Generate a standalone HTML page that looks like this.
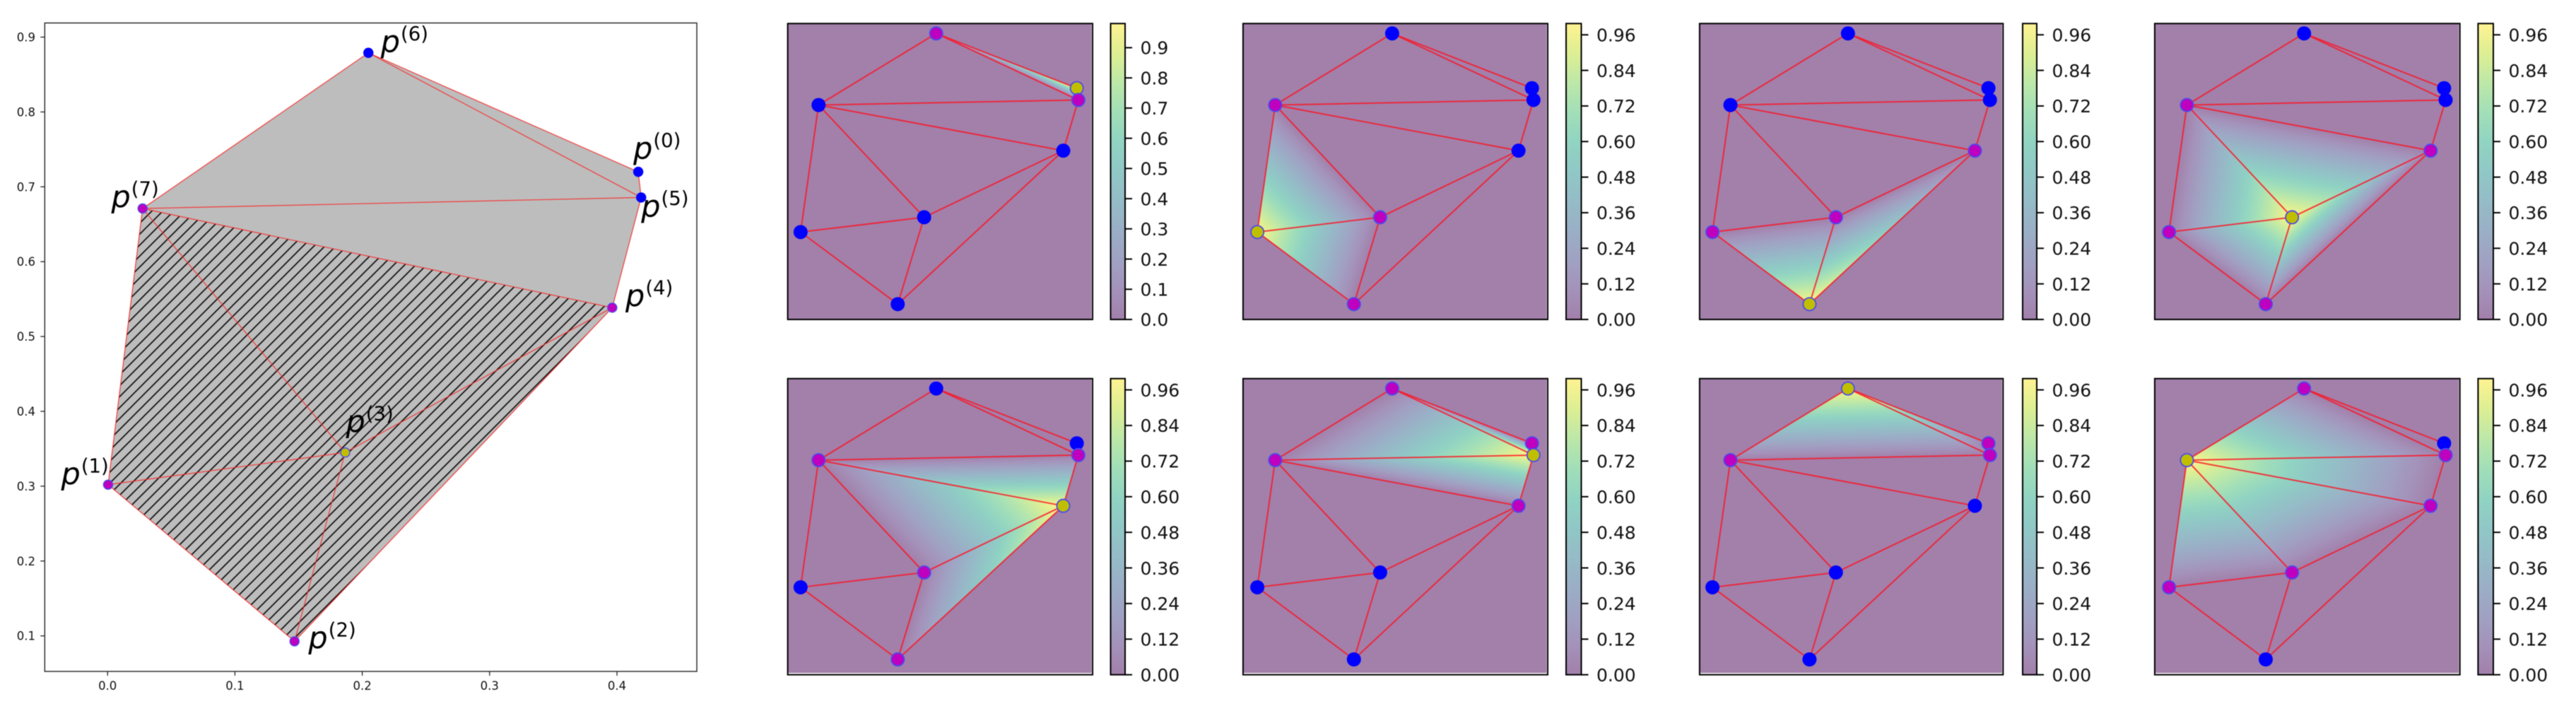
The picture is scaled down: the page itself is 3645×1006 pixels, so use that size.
<!DOCTYPE html>
<html lang="en">
<head>
<meta charset="utf-8">
<title>Nodal basis functions on a triangulation</title>
<style>
  html, body { margin: 0; padding: 0; background: #ffffff; }
  #figure { display: block; filter: blur(0.6px); }
  text { font-family: "DejaVu Sans", "Liberation Sans", sans-serif; fill: #111; }
  .node-label { font-size: 43px; font-style: italic; fill: #000; }
  .node-label tspan { font-size: 27.5px; font-style: normal; }
</style>
</head>
<body>
<svg id="figure" xmlns="http://www.w3.org/2000/svg" width="3645" height="1006" viewBox="0 0 3645 1006">
  <defs id="defs">
    <pattern id="hatch" x="2" y="0" width="15.5" height="15.5" patternUnits="userSpaceOnUse">
      <path d="M-2,2 L2,-2 M-1,16.5 L16.5,-1 M13.5,17.5 L17.5,13.5" stroke="#111" stroke-width="1.7" fill="none"/>
    </pattern>
  </defs>
  <rect x="0" y="0" width="3645" height="1006" fill="#ffffff"/>
  <g id="main-plot"></g>
  <g id="main-labels">
    <text class="node-label" data-node="0" data-dx="-7" data-dy="-18.6">p<tspan dx="1" dy="-16.5">(0)</tspan></text>
    <text class="node-label" data-node="1" data-dx="-66.4" data-dy="-1">p<tspan dx="1" dy="-16.5">(1)</tspan></text>
    <text class="node-label" data-node="2" data-dx="19.7" data-dy="9.6">p<tspan dx="1" dy="-16.5">(2)</tspan></text>
    <text class="node-label" data-node="3" data-dx="1" data-dy="-29">p<tspan dx="1" dy="-16.5">(3)</tspan></text>
    <text class="node-label" data-node="4" data-dx="18.7" data-dy="-2.4">p<tspan dx="1" dy="-16.5">(4)</tspan></text>
    <text class="node-label" data-node="5" data-dx="0" data-dy="27">p<tspan dx="1" dy="-16.5">(5)</tspan></text>
    <text class="node-label" data-node="6" data-dx="17.5" data-dy="-1.1">p<tspan dx="1" dy="-16.5">(6)</tspan></text>
    <text class="node-label" data-node="7" data-dx="-44.3" data-dy="-2">p<tspan dx="1" dy="-16.5">(7)</tspan></text>
  </g>
  <g id="small-panels"></g>
</svg>
<script>
// ---- data ----
const nodeX = [0.4167, 0.0004, 0.1468, 0.1866, 0.3963, 0.419, 0.2048, 0.0275];
const nodeY = [0.720, 0.302, 0.0927, 0.345, 0.5385, 0.6857, 0.879, 0.671];
const triangles = [[6, 0, 5], [6, 5, 7], [7, 5, 4], [7, 4, 3], [7, 3, 1], [1, 3, 2], [3, 4, 2]];
const hatchedTriangles = [3, 4, 5, 6];
const mainActiveNode = 3;
const panelActiveNodes = [0, 1, 2, 3, 4, 5, 6, 7];
const mainXTicks = ['0.0', '0.1', '0.2', '0.3', '0.4'];
const mainYTicks = ['0.1', '0.2', '0.3', '0.4', '0.5', '0.6', '0.7', '0.8', '0.9'];
const firstColorbarTicks = ['0.0', '0.1', '0.2', '0.3', '0.4', '0.5', '0.6', '0.7', '0.8', '0.9'];
const colorbarTicks = ['0.00', '0.12', '0.24', '0.36', '0.48', '0.60', '0.72', '0.84', '0.96'];
const firstColorbarMax = 0.98;
const colorbarMax = 0.998;
const viridisStops = ['#440154', '#482475', '#414487', '#355f8d', '#2a788e', '#21918c', '#22a884', '#44bf70', '#7ad151', '#bddf26', '#fde725'];

// ---- layout ----
const SVGNS = 'http://www.w3.org/2000/svg';
const mainRect = { left: 63.3, right: 986, top: 32.5, bottom: 950 };
const mainX = function (v) { return 152.2 + 1802 * v; };
const mainY = function (v) { return 899.7 - (v - 0.1) * 1059; };
const rowBoxes = [{ top: 33.3, bottom: 452 }, { top: 535.7, bottom: 954.7 }];
const columnBoxes = [
  { left: 1114.6, right: 1546, xmin: -0.0190, xmax: 0.4405, barLeft: 1571.5, barRight: 1592 },
  { left: 1758.9, right: 2190, xmin: -0.0212, xmax: 0.4406, barLeft: 2216, barRight: 2237.5 },
  { left: 2404.9, right: 2834.3, xmin: -0.0190, xmax: 0.4388, barLeft: 2862, barRight: 2882 },
  { left: 3048.9, right: 3480.7, xmin: -0.0212, xmax: 0.4406, barLeft: 3506.4, barRight: 3528 }
];
const panelYMin = 0.0482;
const panelYMax = 0.9077;

function make(tag, attrs, parent) {
  const node = document.createElementNS(SVGNS, tag);
  Object.keys(attrs).forEach(function (k) { node.setAttribute(k, attrs[k]); });
  parent.appendChild(node);
  return node;
}

function hexToRgb(h) {
  return [parseInt(h.slice(1, 3), 16), parseInt(h.slice(3, 5), 16), parseInt(h.slice(5, 7), 16)];
}
// viridis stop drawn at alpha 0.5 on white
function blendedStop(i) {
  const c = hexToRgb(viridisStops[i]);
  return 'rgb(' + c.map(function (x) { return Math.round((x + 255) / 2); }).join(',') + ')';
}

function uniqueEdges() {
  const seen = {};
  const out = [];
  triangles.forEach(function (t) {
    [[t[0], t[1]], [t[1], t[2]], [t[2], t[0]]].forEach(function (e) {
      const key = Math.min(e[0], e[1]) + '-' + Math.max(e[0], e[1]);
      if (!seen[key]) { seen[key] = true; out.push(e); }
    });
  });
  return out;
}

function neighboursOf(active) {
  const set = {};
  triangles.forEach(function (t) {
    if (t.indexOf(active) >= 0) { t.forEach(function (n) { if (n !== active) { set[n] = true; } }); }
  });
  return set;
}

function polyPoints(tri, fx, fy) {
  return tri.map(function (n) { return fx(nodeX[n]).toFixed(2) + ',' + fy(nodeY[n]).toFixed(2); }).join(' ');
}

function drawEdges(parent, fx, fy, stroke, width, opacity) {
  uniqueEdges().forEach(function (e) {
    const line = make('line', {
      x1: fx(nodeX[e[0]]), y1: fy(nodeY[e[0]]), x2: fx(nodeX[e[1]]), y2: fy(nodeY[e[1]]),
      stroke: stroke, 'stroke-width': width, 'stroke-opacity': opacity
    }, parent);
    
    
  });
}

function drawNodes(parent, fx, fy, active, outerR, strokeW) {
  const near = neighboursOf(active);
  nodeX.forEach(function (vx, i) {
    const cx = fx(vx);
    const cy = fy(nodeY[i]);
    const plain = i !== active && !near[i];
    const dot = make('circle', {
      cx: cx, cy: cy, r: plain ? outerR : outerR - strokeW / 2,
      fill: plain ? '#0000ff' : (i === active ? '#bfbf00' : '#bf00bf'),
      stroke: plain ? 'none' : '#4a4aee', 'stroke-width': plain ? 0 : strokeW
    }, parent);
    
    
  });
}

// ---- main mesh plot ----
function drawMain() {
  const g = document.getElementById('main-plot');
  const fills = make('g', {}, g);
  
  
  triangles.forEach(function (t, i) {
    const pts = polyPoints(t, mainX, mainY);
    const tri = make('polygon', { points: pts, fill: '#bdbdbd', stroke: '#bdbdbd', 'stroke-width': 0.6 }, fills);
    
    
    if (hatchedTriangles.indexOf(i) >= 0) {
      const hatched = make('polygon', { points: pts, fill: 'url(#hatch)' }, fills);
      
      
    }
  });
  drawEdges(g, mainX, mainY, '#ff2020', 1.2, 0.85);
  drawNodes(g, mainX, mainY, mainActiveNode, 7.2, 1.4);

  const frame = make('rect', {
    x: mainRect.left, y: mainRect.top, width: mainRect.right - mainRect.left, height: mainRect.bottom - mainRect.top,
    fill: 'none', stroke: '#222', 'stroke-width': 1.4
  }, g);
  
  

  mainXTicks.forEach(function (label) {
    const px = mainX(parseFloat(label));
    const tick = make('line', { x1: px, x2: px, y1: mainRect.bottom, y2: mainRect.bottom + 6, stroke: '#222', 'stroke-width': 1.3 }, g);
    
    
    const txt = make('text', { x: px, y: 976, 'text-anchor': 'middle', 'font-size': 16.5 }, g);
    
    
    txt.textContent = label;
  });
  mainYTicks.forEach(function (label) {
    const py = mainY(parseFloat(label));
    const tick = make('line', { x1: mainRect.left - 6, x2: mainRect.left, y1: py, y2: py, stroke: '#222', 'stroke-width': 1.3 }, g);
    
    
    const txt = make('text', { x: 50, y: py + 6, 'text-anchor': 'end', 'font-size': 16.5 }, g);
    
    
    txt.textContent = label;
  });

  document.querySelectorAll('.node-label').forEach(function (t) {
    const n = parseInt(t.getAttribute('data-node'), 10);
    t.setAttribute('x', mainX(nodeX[n]) + parseFloat(t.getAttribute('data-dx')));
    t.setAttribute('y', mainY(nodeY[n]) + parseFloat(t.getAttribute('data-dy')));
  });
}

// ---- small basis-function panels ----
function drawPanel(index) {
  const col = columnBoxes[index % 4];
  const rowIndex = Math.floor(index / 4);
  const row = rowBoxes[rowIndex];
  const active = panelActiveNodes[index];
  const fx = function (v) { return col.left + (v - col.xmin) / (col.xmax - col.xmin) * (col.right - col.left); };
  const fy = function (v) { return row.top + (panelYMax - v) / (panelYMax - panelYMin) * (row.bottom - row.top); };
  const defs = document.getElementById('defs');
  const g = make('g', {}, document.getElementById('small-panels'));
  
  

  const bg = make('rect', {
    x: col.left, y: row.top,
    width: col.right - col.left - 1.5,
    height: row.bottom - row.top - (rowIndex === 1 ? 2.5 : 0.5),
    fill: blendedStop(0)
  }, g);
  
  

  triangles.forEach(function (t, ti) {
    const at = t.indexOf(active);
    if (at < 0) { return; }
    const b = t[(at + 1) % 3];
    const c = t[(at + 2) % 3];
    const ax = fx(nodeX[active]);
    const ay = fy(nodeY[active]);
    const bx = fx(nodeX[b]);
    const by = fy(nodeY[b]);
    const ex = fx(nodeX[c]) - bx;
    const ey = fy(nodeY[c]) - by;
    const s = ((ax - bx) * ex + (ay - by) * ey) / (ex * ex + ey * ey);
    const id = 'grad-' + index + '-' + ti;
    // gradient runs from the opposite edge (value 0) up to the active node (value 1)
    const grad = make('linearGradient', {
      id: id, gradientUnits: 'userSpaceOnUse',
      x1: bx + s * ex, y1: by + s * ey, x2: ax, y2: ay
    }, defs);
    viridisStops.forEach(function (_, k) {
      make('stop', {
        offset: k / (viridisStops.length - 1),
        'stop-color': blendedStop(k)
      }, grad);
    });
    const tri = make('polygon', { points: polyPoints(t, fx, fy), fill: 'url(#' + id + ')' }, g);
    
    
  });

  drawEdges(g, fx, fy, '#ff1020', 2, 0.8);
  drawNodes(g, fx, fy, active, 10, 1.8);

  const frame = make('rect', {
    x: col.left, y: row.top, width: col.right - col.left, height: row.bottom - row.top,
    fill: 'none', stroke: '#000', 'stroke-width': 2
  }, g);
  
  

  drawColorbar(g, col, row, index === 0 ? firstColorbarTicks : colorbarTicks, index === 0 ? firstColorbarMax : colorbarMax, index);
}

function drawColorbar(parent, col, row, labels, vmax, index) {
  const defs = document.getElementById('defs');
  const id = 'cbar-' + index;
  const grad = make('linearGradient', { id: id, x1: 0, y1: 1, x2: 0, y2: 0 }, defs);
  viridisStops.forEach(function (_, k) {
    make('stop', { offset: k / (viridisStops.length - 1), 'stop-color': blendedStop(k) }, grad);
  });
  const g = make('g', {}, parent);
  
  
  const bar = make('rect', {
    x: col.barLeft, y: row.top, width: col.barRight - col.barLeft, height: row.bottom - row.top,
    fill: 'url(#' + id + ')', stroke: '#000', 'stroke-width': 2
  }, g);
  
  
  labels.forEach(function (label) {
    const py = row.bottom - parseFloat(label) / vmax * (row.bottom - row.top);
    const tick = make('line', { x1: col.barRight, x2: col.barRight + 10, y1: py, y2: py, stroke: '#000', 'stroke-width': 2 }, g);
    
    
    const txt = make('text', { x: col.barRight + 21.5, y: py + 9.2, 'font-size': 25 }, g);
    
    
    txt.textContent = label;
  });
}

drawMain();
panelActiveNodes.forEach(function (_, i) { drawPanel(i); });
</script>
</body>
</html>
